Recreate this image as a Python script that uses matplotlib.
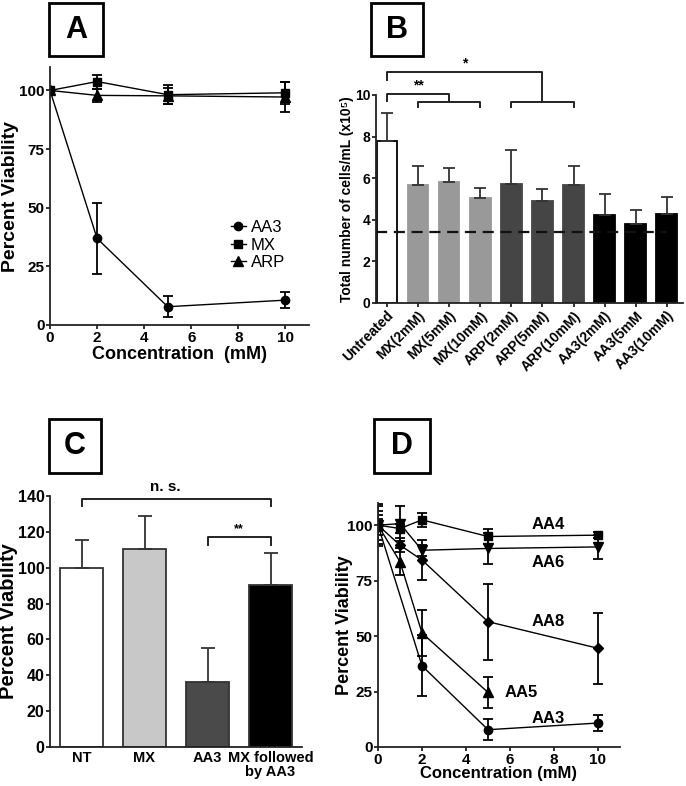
import numpy as np
import matplotlib.pyplot as plt
from matplotlib.patches import Rectangle
from matplotlib.lines import Line2D

plt.rcParams['font.family'] = ['Liberation Sans', 'DejaVu Sans']
plt.rcParams['font.weight'] = 'bold'
plt.rcParams['axes.labelweight'] = 'bold'

# ---- panel A: viability vs concentration
conc_a = [0, 2, 5, 10]
aa3_a = [100, 36.9, 7.8, 10.6]
aa3_a_err = [0, 15, 4.6, 3.3]
mx_a = [100, 103.8, 98.2, 99.0]
mx_a_err = [0, 3, 4, 4.8]
arp_a = [100, 97.9, 97.7, 97.2]
arp_a_err = [0, 2.8, 3.5, 6.4]

# ---- panel B: cell counts
groups_b = ['Untreated', 'MX(2mM)', 'MX(5mM)', 'MX(10mM)', 'ARP(2mM)',
            'ARP(5mM)', 'ARP(10mM)', 'AA3(2mM)', 'AA3(5mM', 'AA3(10mM)']
cells_b = [7.8, 5.67, 5.83, 5.06, 5.71, 4.9, 5.65, 4.22, 3.82, 4.29]
cells_b_err = [1.32, 0.93, 0.67, 0.48, 1.64, 0.56, 0.95, 1.04, 0.64, 0.83]
colors_b = ['white', '#999999', '#999999', '#999999', '#454545',
            '#454545', '#454545', 'black', 'black', 'black']
baseline_b = 3.42

# ---- panel C: pretreatment
groups_c = ['NT', 'MX', 'AA3', 'MX followed\nby AA3']
viab_c = [100, 110.6, 36.5, 90.2]
viab_c_err = [15.2, 18.4, 18.6, 18.1]
colors_c = ['white', '#c8c8c8', '#4a4a4a', 'black']

# ---- panel D: analogues
conc_d = [0, 1, 2, 5, 10]
aa4_d = [100, 98.5, 102.4, 94.9, 95.5]
aa4_d_err = [2.7, 2, 3, 3.5, 1.5]
aa6_d = [100, 100.7, 88.7, 89.5, 90.2]
aa6_d_err = [8.7, 8, 2.5, 7, 5.5]
aa8_d = [100, 91, 84.3, 56.5, 44.5]
aa8_d_err = [6.5, 3, 9, 17.2, 16]
conc_d5 = [0, 1, 2, 5]
aa5_d = [100, 83.5, 51.4, 24.6]
aa5_d_err = [4.6, 6, 10.5, 6.8]
conc_d3 = [0, 2, 5, 10]
aa3_d = [100, 36.6, 7.8, 10.8]
aa3_d_err = [9.5, 13.8, 4.6, 3.7]

W, H = 686, 786
fig = plt.figure(figsize=(W / 100, H / 100), dpi=100)


def px(l, t, r, b):
    return [l / W, 1 - b / H, (r - l) / W, (b - t) / H]


def style(ax, size=11):
    for s in ['top', 'right']:
        ax.spines[s].set_visible(False)
    for s in ['left', 'bottom']:
        ax.spines[s].set_linewidth(1.3)
        ax.spines[s].set_color('#222222')
    ax.tick_params(direction='out', length=3, width=1.3, labelsize=size, color='#222222', pad=1)


def letter(l, t, r, b, txt):
    fig.patches.append(Rectangle((l / W, 1 - b / H), (r - l) / W, (b - t) / H,
                                 transform=fig.transFigure, fill=False, lw=2, ec='black'))
    fig.text((l + r) / 2 / W, 1 - (t + b) / 2 / H, txt, ha='center', va='center',
             fontsize=22, fontweight='bold')


ekw = dict(color='black', lw=1, elinewidth=1.3, capsize=3.5, capthick=1.3)

# A
axA = fig.add_axes(px(50, 67, 309, 325))
axA.errorbar(conc_a, aa3_a, yerr=aa3_a_err, marker='o', ms=6, **ekw)
axA.errorbar(conc_a, mx_a, yerr=mx_a_err, marker='s', ms=6, **ekw)
axA.errorbar(conc_a, arp_a, yerr=arp_a_err, marker='^', ms=7, **ekw)
axA.set_xlim(0, 11)
axA.set_ylim(0, 110)
axA.set_xticks([0, 2, 4, 6, 8, 10])
axA.set_yticks([0, 25, 50, 75, 100])
axA.set_xlabel('Concentration  (mM)', fontsize=13)
axA.xaxis.set_label_coords(0.5, -0.08)
axA.set_ylabel('Percent Viability', fontsize=14)
axA.yaxis.set_label_coords(-0.118, 0.5)
style(axA)
handles = [Line2D([], [], color='black', lw=1, marker=m, ms=s)
           for m, s in [('o', 6), ('s', 6), ('^', 7)]]
axA.legend(handles, ['AA3', 'MX', 'ARP'], frameon=False, loc='center left',
           bbox_to_anchor=(0.64, 0.31), handlelength=0.9, handletextpad=0.3,
           labelspacing=0.15, prop={'size': 12, 'weight': 'normal'})
letter(49, 3, 103, 56, 'A')

# B
axB = fig.add_axes(px(376, 95, 683, 303))
xb = np.arange(len(groups_b))
axB.bar(xb, cells_b, width=0.665, color=colors_b, edgecolor=['black'] + colors_b[1:], lw=1.3,
        yerr=[np.zeros(len(cells_b)), cells_b_err],
        error_kw=dict(ecolor='#333333', elinewidth=1.3, capsize=4, capthick=1.3), zorder=2)
axB.plot([-0.35, 9.0], [baseline_b, baseline_b], ls='--', color='#111111', lw=1.6,
         dashes=(5, 3), zorder=3)
axB.set_xlim(-0.35, 9.52)
axB.set_ylim(0, 10)
axB.set_yticks([0, 2, 4, 6, 8, 10])
axB.set_xticks(xb)
axB.set_xticklabels(groups_b, rotation=45, ha='right', rotation_mode='anchor')
axB.set_ylabel('Total number of cells/mL (x10⁵)', fontsize=10)
axB.yaxis.set_label_coords(-0.072, 0.5)
style(axB, 10)
bk = dict(color='#222222', lw=1.4, clip_on=False)
axB.plot([0, 0, 2, 2], [9.7, 10.03, 10.03, 9.7], **bk)
axB.plot([1, 1, 3, 3], [9.4, 9.66, 9.66, 9.4], **bk)
axB.text(1.0, 10.12, '**', ha='center', va='bottom', fontsize=10)
axB.plot([0, 0, 5, 5], [10.7, 11.1, 11.1, 9.66], **bk)
axB.plot([4, 4, 6, 6], [9.4, 9.66, 9.66, 9.4], **bk)
axB.text(2.5, 11.2, '*', ha='center', va='bottom', fontsize=10)
letter(371, 3, 423, 56, 'B')

# C
axC = fig.add_axes(px(50, 496, 302, 747))
xc = np.arange(len(groups_c))
axC.bar(xc, viab_c, width=0.667, color=colors_c, edgecolor='#333333', lw=1.3,
        yerr=[np.zeros(len(viab_c)), viab_c_err],
        error_kw=dict(ecolor='#333333', elinewidth=1.3, capsize=5, capthick=1.3))
axC.set_xlim(-0.5, 3.5)
axC.set_ylim(0, 140)
axC.set_yticks(np.arange(0, 141, 20))
axC.set_xticks(xc)
axC.set_xticklabels(groups_c, linespacing=1.0)
axC.set_ylabel('Percent Viability', fontsize=14.5)
axC.yaxis.set_label_coords(-0.128, 0.5)
style(axC, 11.5)
axC.tick_params(axis='x', length=0, labelsize=10.5, pad=3)
axC.plot([0, 0, 3, 3], [134.3, 138.6, 138.6, 134.3], **bk)
axC.text(1.33, 141, 'n. s.', ha='center', va='bottom', fontsize=11)
axC.plot([2, 2, 3, 3], [112.6, 117, 117, 112.6], **bk)
axC.text(2.49, 118, '**', ha='center', va='bottom', fontsize=9)
letter(49, 419, 101, 473, 'C')

# D
axD = fig.add_axes(px(378, 503, 620, 747))
axD.errorbar(conc_d, aa4_d, yerr=aa4_d_err, marker='s', ms=6, **ekw)
axD.errorbar(conc_d, aa6_d, yerr=aa6_d_err, marker='v', ms=7, **ekw)
axD.errorbar(conc_d, aa8_d, yerr=aa8_d_err, marker='D', ms=5, **ekw)
axD.errorbar(conc_d5, aa5_d, yerr=aa5_d_err, marker='^', ms=7, **ekw)
axD.errorbar(conc_d3, aa3_d, yerr=aa3_d_err, marker='o', ms=6, **ekw)
for name, x, y in [('AA4', 7.75, 100.4), ('AA6', 7.75, 83.2), ('AA8', 7.75, 56.7),
                   ('AA5', 6.5, 24.7), ('AA3', 7.75, 12.7)]:
    axD.text(x, y, name, ha='center', va='center', fontsize=12)
axD.set_xlim(0, 11)
axD.set_ylim(0, 110)
axD.set_xticks([0, 2, 4, 6, 8, 10])
axD.set_yticks([0, 25, 50, 75, 100])
axD.set_xlabel('Concentration (mM)', fontsize=12)
axD.xaxis.set_label_coords(0.5, -0.078)
axD.set_ylabel('Percent Viability', fontsize=13)
axD.yaxis.set_label_coords(-0.105, 0.5)
style(axD, 11)
letter(374, 419, 430, 473, 'D')

fig.savefig('out.png', dpi=100, facecolor='white')
